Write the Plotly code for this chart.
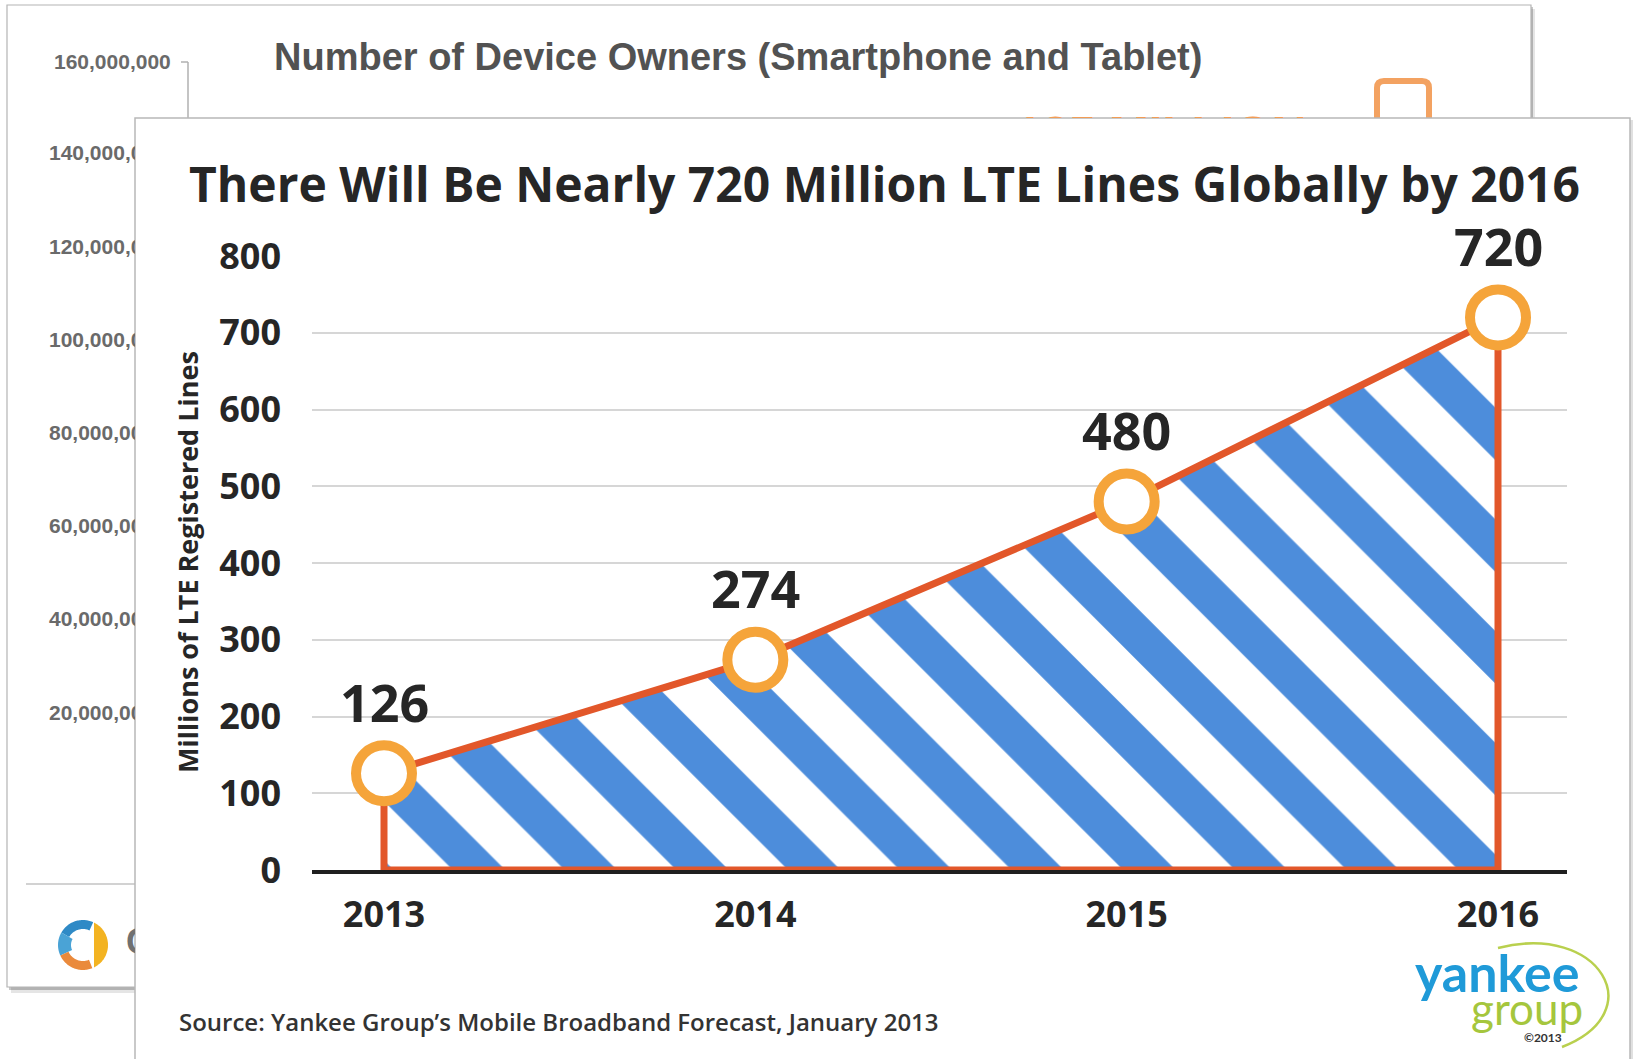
import numpy as np
import plotly.graph_objects as go

W, H = 1633, 1059

# ---- data -------------------------------------------------------------
years = [2013, 2014, 2015, 2016]
lte_lines = [126, 274, 480, 720]          # millions of LTE registered lines
y_ticks = [0, 100, 200, 300, 400, 500, 600, 700, 800]

# tick values of the device-owner chart sitting behind the main card
owner_ticks = [160_000_000, 140_000_000, 120_000_000, 100_000_000,
               80_000_000, 60_000_000, 40_000_000, 20_000_000]

TITLE = "There Will Be Nearly 720 Million LTE Lines Globally by 2016"
BACK_TITLE = "Number of Device Owners (Smartphone and Tablet)"
Y_TITLE = "Millions of LTE Registered Lines"
SOURCE = "Source: Yankee Group\u2019s Mobile Broadband Forecast, January 2013"


def px(x):
    return x / W


def py(y):
    return 1 - y / H


MAIN_FONT = "Open Sans"
BACK_FONT = "Liberation Sans"
DARK = "#262626"
ORANGE_LINE = "#e2572a"
RING = "#f5a43a"
BLUE = "#4d8ddb"

fig = go.Figure()

# ---- main chart: hatched area with orange outline ----------------------
area_x = [years[0]] + years + [years[-1], years[0]]
area_y = [0] + lte_lines + [0, 0]
fig.add_trace(go.Scatter(
    x=area_x, y=area_y, mode="lines", fill="toself",
    fillcolor="white",
    fillpattern=dict(shape="\\", fgcolor=BLUE, bgcolor="white",
                     size=79, solidity=0.47, fillmode="replace"),
    line=dict(color=ORANGE_LINE, width=7),
    hoverinfo="skip", showlegend=False,
))
fig.add_trace(go.Scatter(
    x=years, y=lte_lines, mode="markers",
    marker=dict(size=56, color="white", line=dict(color=RING, width=10)),
    cliponaxis=False, showlegend=False,
))

# ---- back card: clipped left tick labels (hidden behind the front card) -
o_top_px, o_step_px = 62, 93.2
owner_px = [o_top_px + (owner_ticks[0] - v) / 20_000_000 * o_step_px for v in owner_ticks]
fig.add_trace(go.Scatter(
    x=[49] * (len(owner_ticks) - 1), y=owner_px[1:],
    text=[f"{v:,}" for v in owner_ticks[1:]],
    mode="text", textposition="middle right",
    textfont=dict(family=BACK_FONT, size=21, color="#6a6a6a", weight="bold"),
    xaxis="x3", yaxis="y3", cliponaxis=True, showlegend=False, hoverinfo="skip",
))
fig.add_trace(go.Scatter(
    x=[126], y=[945], text=["C"], mode="text", textposition="middle right",
    textfont=dict(family=BACK_FONT, size=36, color="#707070", weight="bold"),
    xaxis="x3", yaxis="y3", cliponaxis=True, showlegend=False, hoverinfo="skip",
))
# orange headline of the back card, mostly covered by the front card
fig.add_trace(go.Scatter(
    x=[1161], y=[138], text=["135 MILLION"], mode="text", textposition="middle center",
    textfont=dict(family=BACK_FONT, size=48, color="#f29c55", weight="bold"),
    xaxis="x2", yaxis="y2", cliponaxis=True, showlegend=False, hoverinfo="skip",
))

# ---- card shapes -------------------------------------------------------
shapes = []


def rect(x0, y0, x1, y1, fill, line=None, lw=0):
    shapes.append(dict(type="rect", xref="paper", yref="paper",
                       x0=px(x0), x1=px(x1), y0=py(y1), y1=py(y0),
                       fillcolor=fill, line=dict(color=line or fill, width=lw),
                       layer="below"))


def seg(x0, y0, x1, y1, color, width):
    shapes.append(dict(type="line", xref="paper", yref="paper",
                       x0=px(x0), x1=px(x1), y0=py(y0), y1=py(y1),
                       line=dict(color=color, width=width), layer="below"))


def poly_path(points):
    return "M " + " L ".join(f"{px(x):.5f},{py(y):.5f}" for x, y in points) + " Z"


def poly(points, fill):
    shapes.append(dict(type="path", xref="paper", yref="paper", path=poly_path(points),
                       fillcolor=fill, line=dict(width=0), layer="below"))


# back card with drop shadow
rect(11, 9, 1535, 993, "rgba(0,0,0,0.10)")
rect(9, 7, 1533, 990, "rgba(0,0,0,0.22)")
rect(7, 5, 1531, 987, "white", "#b4b4b4", 1.2)
# back card axis line and tick
seg(188, 62, 188, 600, "#b0b0b0", 1.5)
seg(181, 62, 188, 62, "#b0b0b0", 1.5)
# back card baseline
seg(26, 884, 1500, 884, "#d2d2d2", 2)

# back card rounded orange box
bx0, by0, bx1, by1, r = 1377, 81, 1429, 150, 7
box = (f"M {px(bx0 + r)},{py(by0)} L {px(bx1 - r)},{py(by0)} "
       f"Q {px(bx1)},{py(by0)} {px(bx1)},{py(by0 + r)} L {px(bx1)},{py(by1)} "
       f"L {px(bx0)},{py(by1)} L {px(bx0)},{py(by0 + r)} "
       f"Q {px(bx0)},{py(by0)} {px(bx0 + r)},{py(by0)} Z")
shapes.append(dict(type="path", xref="paper", yref="paper", path=box,
                   fillcolor="white", line=dict(color="#f3a261", width=6), layer="below"))

# back card round logo
cx, cy, R = 83, 945, 25
ang = np.linspace(-np.arccos(11 / R), np.arccos(11 / R), 40)
poly([(cx + R * np.cos(a), cy - R * np.sin(a)) for a in ang], "#f3b321")


def ring(a0, a1, r_out, r_in, color):
    a = np.radians(np.linspace(a0, a1, 40))
    outer = [(cx + r_out * np.cos(t), cy - r_out * np.sin(t)) for t in a]
    inner = [(cx + r_in * np.cos(t), cy - r_in * np.sin(t)) for t in a[::-1]]
    poly(outer + inner, color)


ring(66, 150, R, R - 9, "#2f8ac6")
ring(150, 205, R, R - 13, "#4aa3d6")
ring(205, 292, R, R - 9, "#ea8a3c")

# front card with soft shadow
rect(137, 120, 1634, 1080, "rgba(0,0,0,0.12)")
rect(135, 118, 1630, 1080, "white", "#b8b8b8", 1.5)

# yankee group swoosh
swoosh = (f"M {px(1498)},{py(948)} C {px(1600)},{py(922)} "
          f"{px(1652)},{py(1012)} {px(1562)},{py(1047)}")
shapes.append(dict(type="path", xref="paper", yref="paper", path=swoosh,
                   line=dict(color="#b9d04e", width=2.5), layer="above"))

# ---- annotations -------------------------------------------------------
ann = []


def text(x, y, s, size, color, family=MAIN_FONT, weight="bold", xanchor="center", angle=0):
    ann.append(dict(x=px(x), y=py(y), xref="paper", yref="paper", text=s,
                    showarrow=False, xanchor=xanchor, yanchor="middle", textangle=angle,
                    font=dict(family=family, size=size, color=color, weight=weight)))


text(52, o_top_px, f"{owner_ticks[0]:,}", 21, "#6a6a6a", BACK_FONT, xanchor="left")
text(738, 57, BACK_TITLE, 38, "#525252", BACK_FONT)
text(884, 183, TITLE, 48, DARK)
text(187, 562, Y_TITLE, 27, DARK, angle=-90)
text(177, 1021, SOURCE, 24, "#333333", weight=600, xanchor="left")
text(1497, 972, "yankee", 52, "#1f9ad8", "Lato", weight="bold")
text(1527, 1008, "group", 44, "#a5c63d", "Lato", weight="normal")
text(1543, 1037, "\u00a92013", 12, "#333333", "Lato", weight="bold")

for yr, v in zip(years, lte_lines):
    ann.append(dict(x=yr, y=v, xref="x", yref="y", text=str(v), showarrow=False,
                    yshift=72, xanchor="center", yanchor="middle",
                    font=dict(family=MAIN_FONT, size=52, color=DARK, weight="bold")))

# ---- layout ------------------------------------------------------------
x_left, x_right = 312, 1567
x_first, x_last = 384, 1498
per_year = (x_last - x_first) / (years[-1] - years[0])
x_range = [years[0] - (x_first - x_left) / per_year, years[-1] + (x_right - x_last) / per_year]

hidden = dict(visible=False, showgrid=False, zeroline=False, fixedrange=True)

fig.update_layout(
    width=W, height=H,
    margin=dict(l=0, r=0, t=0, b=0, pad=0, autoexpand=False),
    paper_bgcolor="white", plot_bgcolor="rgba(0,0,0,0)",
    showlegend=False,
    xaxis=dict(domain=[px(x_left), px(x_right)], range=x_range,
               tickvals=years, ticktext=[str(y) for y in years],
               showgrid=False, zeroline=False, ticks="",
               showline=True, linecolor="#1f1f1f", linewidth=4,
               tickfont=dict(family=MAIN_FONT, size=36, color=DARK, weight="bold"),
               ticklabelstandoff=10, fixedrange=True),
    yaxis=dict(domain=[py(870), py(256)], range=[0, 800], tickvals=y_ticks,
               showgrid=True, gridcolor="#d6d6d6", gridwidth=2,
               zeroline=False, showline=False, ticks="",
               tickfont=dict(family=MAIN_FONT, size=36, color=DARK, weight="bold"),
               ticklabelstandoff=30, fixedrange=True),
    xaxis2=dict(domain=[px(950), px(1360)], range=[950, 1360], anchor="y2", **hidden),
    yaxis2=dict(domain=[py(118), py(90)], range=[118, 90], anchor="x2", **hidden),
    xaxis3=dict(domain=[px(8), px(135)], range=[8, 135], anchor="y3", **hidden),
    yaxis3=dict(domain=[py(990), py(118)], range=[990, 118], anchor="x3", **hidden),
    shapes=shapes,
    annotations=ann,
)

fig.write_html("out.html")
